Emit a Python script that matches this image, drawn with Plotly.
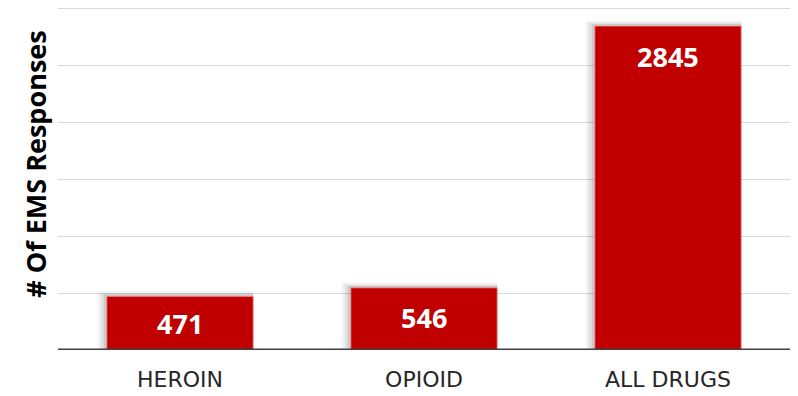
import plotly.graph_objects as go

categories = ["HEROIN", "OPIOID", "ALL DRUGS"]
values = [471, 546, 2845]
y_title = "# Of EMS Responses"

W, H = 798, 396
ML, MR, MB = 57.5, 8, 46
GRID_TOP = 3000
YMAX = 3012
px_per_unit = (H - MB - 8) / GRID_TOP
MT = (H - MB) - YMAX * px_per_unit
plot_h = H - MT - MB
plot_w = W - ML - MR
cat_px = plot_w / len(categories)
bar_w = 0.6

fig = go.Figure()

# soft shadow layers (left/top), behind bars
for dx, dy, a in [(9, 5, 0.05), (6, 3, 0.07), (3, 2, 0.09)]:
    fig.add_trace(go.Bar(
        x=categories,
        y=[v + dy / px_per_unit for v in values],
        width=bar_w + dx / cat_px,
        offset=-bar_w / 2 - dx / cat_px,
        marker=dict(color=f"rgba(0,0,0,{a})", line=dict(width=0)),
        hoverinfo="skip",
        showlegend=False,
    ))

fig.add_trace(go.Bar(
    x=categories,
    y=values,
    width=bar_w,
    offset=-bar_w / 2,
    marker=dict(color="#c00000", line=dict(color="rgba(240,150,150,0.8)", width=1)),
    showlegend=False,
))

annotations = []
for c, v in zip(categories, values):
    shift = min(30, v * px_per_unit / 2)
    annotations.append(dict(
        x=c, y=v, xref="x", yref="y", text=str(v), showarrow=False,
        yanchor="middle", xanchor="center", yshift=-shift,
        font=dict(family="Open Sans", size=27, color="white", weight="bold"),
    ))

annotations.append(dict(
    x=(35 - ML) / plot_w, y=(H - MB - 164) / plot_h, xref="paper", yref="paper",
    text=f"<b>{y_title}</b>", textangle=-90, showarrow=False,
    xanchor="center", yanchor="middle",
    font=dict(family="Open Sans", size=27, color="black"),
))

fig.update_layout(
    width=W, height=H,
    margin=dict(l=ML, r=MR, t=MT, b=MB, pad=0, autoexpand=False),
    paper_bgcolor="white", plot_bgcolor="white",
    barmode="overlay",
    bargap=0.4,
    annotations=annotations,
    shapes=[dict(type="line", xref="paper", yref="y", x0=0, x1=1, y0=0, y1=0,
                 line=dict(color="#404040", width=3), layer="above")],
    xaxis=dict(
        automargin=False,
        showgrid=False, zeroline=False, showline=False, ticks="",
        tickfont=dict(family="DejaVu Sans", size=22, color="#262626"),
        ticklabelstandoff=14,
    ),
    yaxis=dict(
        automargin=False,
        range=[0, YMAX], dtick=500, showticklabels=False, ticks="",
        showgrid=True, gridcolor="#d9d9d9", gridwidth=1,
        zeroline=False, showline=False,
    ),
)

fig.write_html("out.html")
